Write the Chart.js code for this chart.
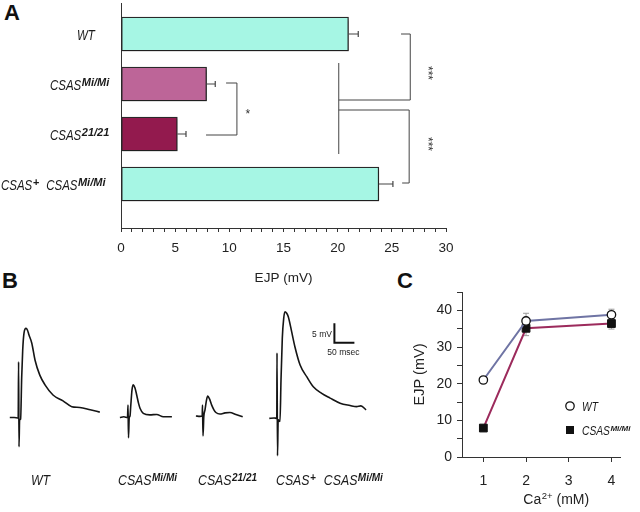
<!DOCTYPE html>
<html>
<head>
<meta charset="utf-8">
<script src="https://cdn.jsdelivr.net/npm/chart.js@4.4.1/dist/chart.umd.min.js"></script>
<style>
  body { margin: 0; background: #fff; width: 640px; height: 512px; position: relative; overflow: hidden;
         font-family: "Liberation Sans", Arial, sans-serif; }
  canvas { position: absolute; }
  .letter { position: absolute; font-weight: bold; font-size: 22px; line-height: 22px; color: #111; }
</style>
</head>
<body>
<div class="letter" style="left:4px;top:2px">A</div>
<div class="letter" style="left:2px;top:270px">B</div>
<div class="letter" style="left:397px;top:270px">C</div>
<canvas id="barA" width="470" height="295" style="left:0;top:0"></canvas>
<canvas id="traceB" width="390" height="212" style="left:0;top:300px"></canvas>
<canvas id="lineC" width="260" height="242" style="left:380px;top:270px"></canvas>
<script>
// genotypes ("^" starts a superscript)
var genotypes = ['WT', 'CSAS^Mi/Mi', 'CSAS^21/21', 'CSAS^+ CSAS^Mi/Mi'];

// A: EJP amplitude (mV), mean and SEM
var ejpMean = [21.0, 7.9, 5.2, 23.8];
var ejpSem = [0.9, 0.8, 0.8, 1.3];
var ejpTicks = [0, 1, 2, 3, 4, 5, 6, 7, 8, 9, 10, 11, 12, 13, 14, 15, 16, 17, 18, 19, 20,
                21, 22, 23, 24, 25, 26, 27, 28, 29, 30];
var barColors = ['#a6f6e4', '#bd6598', '#931a4e', '#a6f6e4'];

// A: significance brackets, [EJP mV, row] corners
var sigLines = [
  [[9.7, 0.98], [10.7, 0.98], [10.7, 2.02], [7.85, 2.02]],
  [[25.85, 0], [26.7, 0], [26.7, 1.32], [20.1, 1.32]],
  [[20.1, 0.58], [20.1, 2.4]],
  [[20.1, 1.52], [26.6, 1.52], [26.6, 2.98], [25.95, 2.98]]
];
var sigMarks = [['*', 11.7, 1.62, 0], ['***', 28.3, 0.78, 90], ['***', 28.3, 2.2, 90]];

// B: example traces, time from stimulus (ms) and membrane potential (mV)
var wtT = [-23, -12, -2, -1, 0, 1.5, 4, 6.75, 9.25, 12.5, 17.5, 21, 25, 32, 40, 52, 65, 85, 110, 132, 152, 178, 202];
var wtV = [0.1, 0.1, 0, 14.4, -7.4, -0.5, -0.3, 10.5, 17.4, 21.8, 23, 22.6, 21.3, 19.2, 14.9, 11, 8.5, 5.9, 4.4, 2.9, 2.7, 2.1, 1.5];
var miT = [-21, -11, -2, -0.75, 0.5, 2.25, 4.25, 6, 9.25, 12.5, 16.75, 21, 25.5, 29.25, 37.5, 54, 71, 87.5, 109];
var miV = [0.1, 0.3, 0.1, 3.3, -5.1, 0, 0.5, 2.9, 7.2, 8.5, 7.7, 5.9, 3.8, 2.5, 1.2, 0.8, 0.9, 0.3, 0.3];
var m21T = [-17, -7, -1.25, -0.5, 0.75, 2.75, 5.75, 9.5, 12.5, 17, 22.5, 28, 33, 43, 56, 68, 83, 100];
var m21V = [0.5, 0.4, 0.5, 3.3, -4.6, 0.3, 2.1, 4.6, 5.6, 4.9, 3.3, 2.1, 1.4, 1.0, 1.3, 1.4, 0.9, 0.3];
var resT = [-20, -8, -1.25, -0.75, 0.5, 2.25, 6.75, 9.25, 12.5, 16, 19.25, 23.5, 27.5, 36, 44, 57, 73.5, 90, 111, 132, 157, 182, 198, 209, 222];
var resV = [-0.1, 0, -0.1, 16.7, -9.7, -0.5, -0.9, 9.7, 20.5, 25.6, 27.3, 26.9, 26, 22.1, 18.3, 13.6, 10.6, 8, 6.3, 5.1, 3.8, 3.2, 2.9, 3.1, 2.1];
var scaleBarMs = 50, scaleBarMv = 5;

// C: EJP vs extracellular calcium
var calcium = [1, 2, 4];
var wtEjp = [21.0, 37.1, 38.8];
var wtSem = [0.6, 2.1, 1.5];
var miEjp = [7.9, 35.1, 36.4];
var miSem = [0.6, 2.0, 1.5];
var caTicks = [1, 2, 3, 4];
var mvTicks = [0, 5, 10, 15, 20, 25, 30, 35, 40, 45];

// layout bits
var FAM = '"Liberation Sans", Arial, sans-serif';
var labelLeftA = [77, 50, 50, 1];
var traceStart = [47.5, 320.75, 506.75, 693.25];   // ms on the panel B axis
var labelLeftB = [31, 118, 198, 276];
var scaleBarAt = [836, 19.3];

Chart.defaults.font.family = FAM;
Chart.defaults.color = '#222';

// italic genotype label with superscripts, x/y = left/baseline
function drawGeno(ctx, label, x, y, size, supSize, rise, gap) {
  ctx.save();
  ctx.fillStyle = '#1a1a1a';
  ctx.textAlign = 'left';
  ctx.textBaseline = 'alphabetic';
  label.split(' ').forEach(function (w) {
    var p = w.split('^');
    ctx.font = 'italic ' + size + 'px ' + FAM;
    ctx.save();
    ctx.translate(x, y);
    ctx.scale(0.82, 1);
    ctx.fillText(p[0], 0, 0);
    ctx.restore();
    x += ctx.measureText(p[0]).width * 0.82;
    if (p[1]) {
      ctx.font = 'italic bold ' + supSize + 'px ' + FAM;
      ctx.fillText(p[1], x + 0.5, y - rise);
      x += ctx.measureText(p[1]).width + 0.5;
    }
    x += gap;
  });
  ctx.restore();
}

var barExtras = {
  id: 'barExtras',
  beforeDatasetDraw: function (chart) {
    var c = chart.ctx;
    c.save();
    c.shadowColor = 'rgba(0,0,0,0.35)';
    c.shadowBlur = 3;
    c.shadowOffsetX = 1;
    c.shadowOffsetY = 2;
  },
  afterDatasetDraw: function (chart) {
    chart.ctx.restore();
  },
  afterDraw: function (chart) {
    var c = chart.ctx, xs = chart.scales.x, ys = chart.scales.y;
    c.save();
    // error bars
    c.strokeStyle = '#444';
    c.lineWidth = 1.2;
    ejpMean.forEach(function (m, i) {
      var y = ys.getPixelForValue(i);
      var x1 = xs.getPixelForValue(m), x2 = xs.getPixelForValue(m + ejpSem[i]);
      c.beginPath();
      c.moveTo(x1, y); c.lineTo(x2, y);
      c.moveTo(x2, y - 3); c.lineTo(x2, y + 3);
      c.stroke();
    });
    // brackets
    c.lineWidth = 1;
    c.strokeStyle = '#444';
    sigLines.forEach(function (pts) {
      c.beginPath();
      pts.forEach(function (p, k) {
        var px = xs.getPixelForValue(p[0]), py = ys.getPixelForValue(p[1]);
        if (k === 0) c.moveTo(px, py); else c.lineTo(px, py);
      });
      c.stroke();
    });
    c.fillStyle = '#333';
    c.font = '12px ' + FAM;
    c.textAlign = 'center';
    c.textBaseline = 'middle';
    sigMarks.forEach(function (s) {
      c.save();
      c.translate(xs.getPixelForValue(s[1]), ys.getPixelForValue(s[2]));
      c.rotate(s[3] * Math.PI / 180);
      c.fillText(s[0], 0, 0);
      c.restore();
    });
    c.restore();
    // row labels
    genotypes.forEach(function (g, i) {
      drawGeno(c, g, labelLeftA[i], ys.getPixelForValue(i) + 6, 14, 11, 4.5, 7);
    });
  }
};

new Chart(document.getElementById('barA'), {
  type: 'bar',
  data: {
    datasets: [{
      data: ejpMean.map(function (v, i) { return { x: v, y: i }; }),
      backgroundColor: barColors,
      borderColor: '#2a2a2a',
      borderWidth: 1.3,
      borderSkipped: false,
      barThickness: 34
    }]
  },
  options: {
    indexAxis: 'y',
    responsive: false,
    animation: false,
    layout: { padding: { top: 3, right: 24, left: 0, bottom: 0 } },
    plugins: { legend: { display: false }, tooltip: { enabled: false } },
    scales: {
      x: {
        type: 'linear', min: 0, max: 30,
        afterBuildTicks: function (s) { s.ticks = ejpTicks.map(function (v) { return { value: v }; }); },
        afterFit: function (s) { s.height = 67; },
        grid: { drawOnChartArea: false, tickLength: 4, color: '#333' },
        border: { color: '#333', width: 1 },
        ticks: {
          autoSkip: false, maxRotation: 0, padding: 8,
          font: { size: 13.5 },
          callback: function (v) { return v % 5 === 0 ? v : ''; }
        },
        title: { display: true, text: 'EJP (mV)', font: { size: 13.5 }, padding: { top: 0, bottom: 9 } }
      },
      y: {
        type: 'linear', reverse: true, min: -0.62, max: 3.88,
        offset: false,
        afterFit: function (s) { s.width = 121; },
        ticks: { display: false },
        grid: { display: false, offset: false },
        border: { display: true, color: '#333', width: 1 }
      }
    }
  },
  plugins: [barExtras]
});

// B: traces
var traces = [[wtT, wtV], [miT, miV], [m21T, m21V], [resT, resV]];
var traceSets = traces.map(function (tr, k) {
  return {
    data: tr[0].map(function (t, i) { return { x: t + traceStart[k], y: tr[1][i] }; }),
    borderColor: '#151515',
    borderWidth: 1.6,
    pointRadius: 0,
    fill: false,
    cubicInterpolationMode: 'monotone'
  };
});
traceSets.push({
  data: [
    { x: scaleBarAt[0], y: scaleBarAt[1] + scaleBarMv },
    { x: scaleBarAt[0], y: scaleBarAt[1] },
    { x: scaleBarAt[0] + scaleBarMs, y: scaleBarAt[1] }
  ],
  borderColor: '#111',
  borderWidth: 2,
  borderJoinStyle: 'miter',
  borderCapStyle: 'butt',
  pointRadius: 0,
  tension: 0
});

var traceText = {
  id: 'traceText',
  afterDraw: function (chart) {
    var c = chart.ctx, xs = chart.scales.x, ys = chart.scales.y;
    var bx = xs.getPixelForValue(scaleBarAt[0]), by = ys.getPixelForValue(scaleBarAt[1]);
    var ty = ys.getPixelForValue(scaleBarAt[1] + scaleBarMv);
    c.save();
    c.fillStyle = '#222';
    c.font = '8.5px ' + FAM;
    c.textBaseline = 'middle';
    c.textAlign = 'right';
    c.fillText(scaleBarMv + ' mV', bx - 2.5, (by + ty) / 2 + 2);
    c.textAlign = 'center';
    c.fillText(scaleBarMs + ' msec', (bx + xs.getPixelForValue(scaleBarAt[0] + scaleBarMs)) / 2 - 1, by + 10);
    c.restore();
    genotypes.forEach(function (g, i) {
      drawGeno(c, g, labelLeftB[i], 185, 15, 10, 4.5, 8);
    });
  }
};

new Chart(document.getElementById('traceB'), {
  type: 'line',
  data: { datasets: traceSets },
  options: {
    responsive: false,
    animation: false,
    layout: { padding: { left: 0, right: 0, top: 0, bottom: 52 } },
    plugins: { legend: { display: false }, tooltip: { enabled: false } },
    scales: {
      x: { type: 'linear', display: false, min: 0, max: 975 },
      y: { type: 'linear', display: false, min: -10.8, max: 30.3 }
    }
  },
  plugins: [traceText]
});

// C: calcium dependence
var lineExtras = {
  id: 'lineExtras',
  beforeDatasetsDraw: function (chart) {
    var c = chart.ctx, xs = chart.scales.x, ys = chart.scales.y;
    c.save();
    c.strokeStyle = '#9a9a9a';
    c.lineWidth = 1;
    [[wtEjp, wtSem], [miEjp, miSem]].forEach(function (s) {
      s[0].forEach(function (m, j) {
        var x = xs.getPixelForValue(calcium[j]);
        var y1 = ys.getPixelForValue(m - s[1][j]), y2 = ys.getPixelForValue(m + s[1][j]);
        c.beginPath();
        c.moveTo(x, y1); c.lineTo(x, y2);
        c.moveTo(x - 3, y1); c.lineTo(x + 3, y1);
        c.moveTo(x - 3, y2); c.lineTo(x + 3, y2);
        c.stroke();
      });
    });
    c.restore();
  },
  afterDraw: function (chart) {
    var c = chart.ctx, a = chart.chartArea;
    var lx = a.left + 108, ly = a.top + 114;
    c.save();
    c.lineWidth = 1.3;
    c.strokeStyle = '#111';
    c.fillStyle = '#fff';
    c.beginPath();
    c.arc(lx, ly, 4.2, 0, Math.PI * 2);
    c.fill();
    c.stroke();
    c.fillStyle = '#111';
    c.fillRect(lx - 4, ly + 24 - 4, 8, 8);

    // x title: Ca2+ (mM), with the charge as superscript
    c.fillStyle = '#222';
    c.textBaseline = 'alphabetic';
    c.textAlign = 'left';
    var f1 = '14px ' + FAM, f2 = '9.5px ' + FAM;
    c.font = f1; var w1 = c.measureText('Ca').width, w3 = c.measureText(' (mM)').width;
    c.font = f2; var w2 = c.measureText('2+').width;
    var tx = 176 - (w1 + w2 + w3) / 2, ty = 234;
    c.font = f1; c.fillText('Ca', tx, ty);
    c.font = f2; c.fillText('2+', tx + w1 + 0.5, ty - 5);
    c.font = f1; c.fillText(' (mM)', tx + w1 + w2 + 0.5, ty);
    c.restore();

    drawGeno(c, genotypes[0], lx + 12, ly + 4.5, 12.5, 8, 3.5, 6);
    drawGeno(c, genotypes[1], lx + 12, ly + 28.5, 12.5, 8, 3.5, 6);
  }
};

new Chart(document.getElementById('lineC'), {
  type: 'line',
  data: {
    datasets: [{
      data: calcium.map(function (x, i) { return { x: x, y: wtEjp[i] }; }),
      borderColor: '#6f74a4',
      borderWidth: 2,
      tension: 0,
      pointStyle: 'circle',
      pointRadius: 4.2,
      pointBackgroundColor: '#fff',
      pointBorderColor: '#111',
      pointBorderWidth: 1.3
    }, {
      data: calcium.map(function (x, i) { return { x: x, y: miEjp[i] }; }),
      borderColor: '#9c2b5c',
      borderWidth: 2,
      tension: 0,
      pointStyle: 'rect',
      pointRadius: 5.5,
      pointBackgroundColor: '#111',
      pointBorderColor: '#111',
      pointBorderWidth: 1
    }]
  },
  options: {
    responsive: false,
    animation: false,
    layout: { padding: { top: 22, right: 20, left: 0, bottom: 0 } },
    plugins: { legend: { display: false }, tooltip: { enabled: false } },
    scales: {
      x: {
        type: 'linear', min: 0.5, max: 4.2,
        afterBuildTicks: function (s) { s.ticks = caTicks.map(function (v) { return { value: v }; }); },
        afterFit: function (s) { s.height = 55; },
        grid: { drawOnChartArea: false, tickLength: 5, color: '#333' },
        border: { color: '#333', width: 1 },
        ticks: { autoSkip: false, maxRotation: 0, padding: 11, font: { size: 14 } }
      },
      y: {
        type: 'linear', min: 0, max: 45,
        afterBuildTicks: function (s) { s.ticks = mvTicks.map(function (v) { return { value: v }; }); },
        afterFit: function (s) { s.width = 82; },
        grid: { drawOnChartArea: false, tickLength: 5, color: '#333' },
        border: { color: '#333', width: 1 },
        ticks: {
          autoSkip: false, padding: 5, font: { size: 14 },
          callback: function (v) { return v % 10 === 0 ? v : ''; }
        },
        title: { display: true, text: 'EJP (mV)', font: { size: 14.5 }, padding: { top: 31, bottom: 0 } }
      }
    }
  },
  plugins: [lineExtras]
});
</script>
</body>
</html>
